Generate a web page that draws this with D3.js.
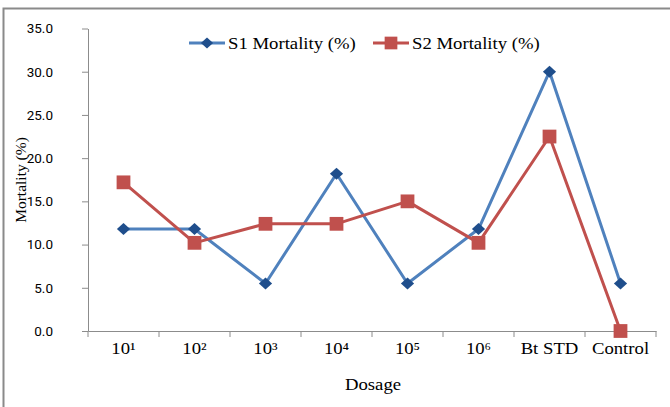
<!DOCTYPE html>
<html>
<head>
<meta charset="utf-8">
<script src="https://cdn.jsdelivr.net/npm/d3@7"></script>
<style>
  html, body { margin: 0; padding: 0; background: #fff; }
  svg { display: block; }
</style>
</head>
<body>
<svg id="chart" width="670" height="407"></svg>
<script>
// Dosage groups and mortality readings
const categories = ["10\u00b9", "10\u00b2", "10\u00b3", "10\u2074", "10\u2075", "10\u2076", "Bt STD", "Control"];
const s1Mortality = [11.8, 11.8, 5.5, 18.2, 5.5, 11.8, 30.0, 5.5];
const s2Mortality = [17.2, 10.2, 12.4, 12.4, 15.0, 10.2, 22.5, 0.0];
const yTicks = [0, 5, 10, 15, 20, 25, 30, 35];
const seriesNames = ["S1 Mortality (%)", "S2 Mortality (%)"];

const svg = d3.select("#chart");
const serif = "'Liberation Serif', 'Times New Roman', serif";
const sans = "Roboto, 'Open Sans', sans-serif";
const axisColor = "#8c8c8c";
const widen = 1.17; // horizontal widening of the serif lettering
const serifSize = "16px";

// outer frame
svg.append("rect")
  .attr("x", 3.5).attr("y", 8.5)
  .attr("width", 670).attr("height", 410)
  .attr("fill", "none").attr("stroke", "#8a8a8a").attr("stroke-width", 2);

const plot = { left: 88, right: 656, top: 28.5, bottom: 331 };

const x = d3.scaleBand().domain(categories).range([plot.left, plot.right]);
const y = d3.scaleLinear().domain([0, 35]).range([plot.bottom, plot.top]);

// y axis
const yAxis = svg.append("g")
  .attr("transform", `translate(${plot.left},0)`)
  .call(d3.axisLeft(y).tickValues(yTicks).tickFormat(d3.format(".1f")).tickSize(6).tickSizeOuter(0));
yAxis.select(".domain").attr("stroke", axisColor);
yAxis.selectAll(".tick line").attr("stroke", axisColor);
yAxis.selectAll(".tick text")
  .attr("x", -35)
  .attr("fill", "#000")
  .style("font-family", sans).style("font-size", "13.5px");

// x axis
const xAxis = svg.append("g")
  .attr("transform", `translate(0,${plot.bottom})`)
  .call(d3.axisBottom(x).tickSize(0).tickSizeOuter(0));
xAxis.select(".domain").attr("stroke", axisColor);
xAxis.selectAll(".tick text")
  .attr("y", 12)
  .attr("transform", `scale(${widen},1)`)
  .attr("fill", "#000")
  .style("font-family", serif).style("font-size", serifSize);
// tick marks at category boundaries
const bounds = categories.map(c => x(c)).concat([plot.right]);
svg.append("g").selectAll("line").data(bounds).join("line")
  .attr("x1", d => d).attr("x2", d => d)
  .attr("y1", plot.bottom).attr("y2", plot.bottom + 6)
  .attr("stroke", axisColor);

// axis titles
svg.append("text")
  .attr("transform", `translate(373,390) scale(${widen},1)`)
  .attr("text-anchor", "middle")
  .style("font-family", serif).style("font-size", serifSize)
  .text("Dosage");
svg.append("text")
  .attr("transform", "translate(26,180) rotate(-90)")
  .attr("text-anchor", "middle")
  .style("font-family", serif).style("font-size", "15.5px")
  .text("Mortality (%)");

const cx = d => x(d) + x.bandwidth() / 2;
const diamond = {
  draw(ctx, size) {
    const r = Math.sqrt(size / 2);
    ctx.moveTo(0, -r); ctx.lineTo(r * 1.1, 0); ctx.lineTo(0, r); ctx.lineTo(-r * 1.1, 0); ctx.closePath();
  }
};
const series = [
  { name: seriesNames[0], values: s1Mortality, line: "#4f81bd", marker: "#1f4e8c", shape: diamond, size: 72 },
  { name: seriesNames[1], values: s2Mortality, line: "#c0504d", marker: "#c0504d", shape: d3.symbolSquare, size: 190 }
];

const lineGen = d3.line().x((d, i) => cx(categories[i])).y(d => y(d));

series.forEach(s => {
  svg.append("path")
    .datum(s.values)
    .attr("d", lineGen)
    .attr("fill", "none")
    .attr("stroke", s.line)
    .attr("stroke-width", 3)
    .attr("stroke-linejoin", "round");
});
series.forEach(s => {
  svg.append("g").selectAll("path").data(s.values).join("path")
    .attr("transform", (d, i) => `translate(${cx(categories[i])},${y(d)})`)
    .attr("d", d3.symbol().type(s.shape).size(s.size))
    .attr("fill", s.marker);
});

// legend
const legendItems = [
  { s: series[0], x0: 189, tx: 228 },
  { s: series[1], x0: 373, tx: 412 }
];
legendItems.forEach(li => {
  const g = svg.append("g");
  g.append("line")
    .attr("x1", li.x0).attr("x2", li.x0 + 36)
    .attr("y1", 43).attr("y2", 43)
    .attr("stroke", li.s.line).attr("stroke-width", 3);
  g.append("path")
    .attr("transform", `translate(${li.x0 + 18},43)`)
    .attr("d", d3.symbol().type(li.s.shape).size(li.s.size * 0.85))
    .attr("fill", li.s.marker);
  g.append("text")
    .attr("transform", `translate(${li.tx},49) scale(${widen},1)`)
    .style("font-family", serif).style("font-size", serifSize)
    .text(li.s.name);
});
</script>
</body>
</html>
